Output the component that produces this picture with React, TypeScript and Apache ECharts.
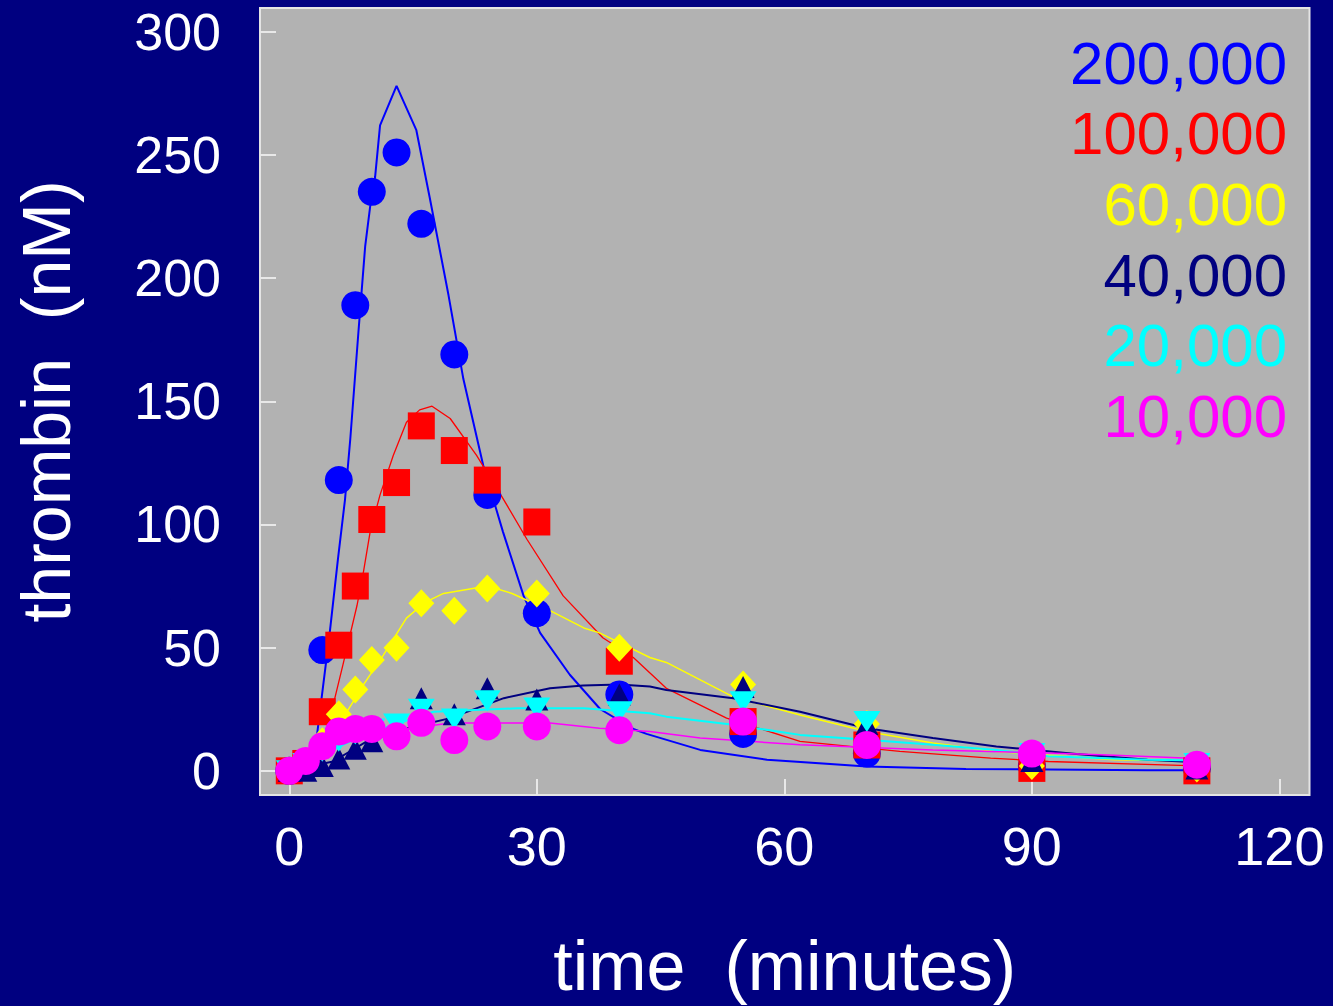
import React, { useEffect, useRef } from "react";
import * as echarts from "echarts";

const FONT = '"Liberation Sans", Arial, Helvetica, sans-serif';

const seriesNames = ["200,000", "100,000", "60,000", "40,000", "20,000", "10,000"];
const seriesColors = ["#0000ff", "#ff0000", "#ffff00", "#000080", "#00ffff", "#ff00ff"];

// axis ticks
const xTicks = [0, 30, 60, 90, 120];
const yTicks = [0, 50, 100, 150, 200, 250, 300];

// sampling times (minutes)
const times = [0, 2, 4, 6, 8, 10, 13, 16, 20, 24, 30, 40, 55, 70, 90, 110];

// measured thrombin (nM)
const obs200k = [0, 3, 49, 118, 189, 235, 251, 222, 169, 112, 64, 31, 15, 7, 2, 1];
const obs100k = [0, 3, 24, 51, 75, 102, 117, 140, 130, 118, 101, 44.5, 20, 10.5, 1, 0];
const obs60k = [0, 3, 12, 23, 33, 45, 50, 68, 65, 74, 72, 50, 35, 19, 2, 1];
const obs40k = [0, 0, 2, 5, 9, 12, 16, 29.5, 23, 33.5, 29, 31, 34, 19, 4, 1];
const obs20k = [0, 3, 8, 12, 15, 17, 19, 25, 21, 28.5, 25.5, 24, 28, 20, 7, 3];
const obs10k = [0, 4, 10, 16, 17, 17, 14, 19.5, 12.5, 18, 18, 16.5, 20, 10.5, 7, 2.5];

// model curves [time, thrombin]
const fit200k = [
  [0, 0], [2, 1], [3, 5], [3.3, 13], [4.9, 56], [5.9, 86], [6.75, 110], [7.4, 135], [8.4, 179],
  [9.2, 213], [9.8, 229], [10.4, 241], [11, 262], [13, 278], [15.4, 260], [17, 233], [19.3, 193],
  [21.1, 159], [23.5, 124], [25.9, 97], [28.4, 71], [30.4, 56], [34, 39], [37.7, 25], [41.7, 17],
  [43.3, 15], [49.8, 8.5], [57.9, 4.5], [70, 1.8], [82, 0.8], [104, 0.2], [110, 0.2],
];
const fit100k = [
  [0, 0], [2, 1], [3.5, 8], [4.9, 21], [6.5, 43], [8.2, 67], [9, 81], [9.8, 97], [11, 112],
  [12.6, 128], [14.2, 141.5], [15.8, 146.5], [17.3, 148], [19.5, 143], [22.7, 128], [26, 110],
  [28.8, 94], [33.2, 71], [38, 54], [41.7, 46], [45.7, 33.5], [53, 21.4], [61.9, 12], [74, 7.9],
  [85, 5.2], [92, 3.8], [108, 2.2], [110, 2],
];
const fit60k = [
  [0, 0], [2, 3], [4.9, 17], [7, 24], [9, 35], [11.4, 47], [14.2, 62], [16.5, 68.5], [18.7, 72],
  [24, 75], [27, 72], [31.6, 65], [35.7, 58], [37.6, 56], [43.7, 46], [45.7, 44], [53.8, 30],
  [61.9, 22.7], [70, 16], [78, 11.3], [85.7, 7.9], [92, 6.3], [100, 4.5], [110, 4],
];
const fit40k = [
  [0, 0], [5.3, 3.8], [9.4, 12], [14, 17], [19.5, 21.4], [26, 29.5], [31.6, 33.5], [35.6, 34.6],
  [40, 35], [43.7, 34.2], [45.7, 32.8], [53.8, 29.5], [61.9, 24], [70, 17.3], [78, 13.3],
  [85.7, 9.9], [95.4, 6.8], [104, 4.5], [110, 3.5],
];
const fit20k = [
  [0, 0], [3, 5], [7.4, 12], [12, 18], [17.5, 24], [27.6, 25.4], [35.7, 25.4], [43.7, 23.4],
  [45.7, 22], [53.8, 18.7], [61.9, 14.6], [70, 12.6], [78, 10.6], [85.7, 8.5], [92, 5.9],
  [104, 4.5], [110, 4.2],
];
const fit10k = [
  [0, 0], [3, 6], [7.4, 12], [12, 16], [19.5, 19.4], [31.6, 19.4], [37.6, 17.3], [43.7, 16],
  [49.8, 13.3], [61.9, 10.6], [78, 8.5], [92, 7.2], [100, 6.3], [110, 5],
];

const observed = [obs200k, obs100k, obs60k, obs40k, obs20k, obs10k];
const fits = [fit200k, fit100k, fit60k, fit40k, fit20k, fit10k];
const symbols = ["circle", "rect", "diamond", "triangle", "triangle", "circle"];
const symbolSizes: any[] = [28, 27, [26, 28], [23, 22], [27, 21], 28];
const symbolRotates = [0, 0, 0, 0, 180, 0];
const lineWidths = [2, 1.3, 1.5, 2, 2, 1.5];

export default function App() {
  const ref = useRef<HTMLDivElement>(null);
  useEffect(() => {
    if (!ref.current) return;
    const chart = echarts.init(ref.current, undefined, { renderer: "svg" });

    const lineSeries = fits.map((f, i) => ({
      name: seriesNames[i] + " model",
      type: "line",
      data: f,
      showSymbol: false,
      symbol: "none",
      smooth: false,
      clip: false,
      lineStyle: { color: seriesColors[i], width: lineWidths[i] },
      z: 2,
    }));
    const scatterSeries = observed.map((o, i) => ({
      name: seriesNames[i],
      type: "scatter",
      data: o.map((v, k) => [times[k], v]),
      symbol: symbols[i],
      symbolSize: symbolSizes[i],
      symbolRotate: symbolRotates[i],
      clip: false,
      itemStyle: { color: seriesColors[i], opacity: 1 },
      z: 3 + i,
    }));

    const legendTexts = seriesNames.map((n, i) => ({
      type: "text",
      x: 1287,
      y: 63 + i * 70.7,
      z: 10,
      style: {
        text: n,
        fill: seriesColors[i],
        font: `60px ${FONT}`,
        align: "right",
        verticalAlign: "middle",
      },
    }));

    chart.setOption({
      animation: false,
      backgroundColor: "#000080",
      textStyle: { fontFamily: FONT },
      grid: {
        left: 260,
        right: 23.5,
        top: 8,
        bottom: 209,
        containLabel: false,
        show: true,
        backgroundColor: "#b2b2b2",
        borderColor: "#e4e4e4",
        borderWidth: 2,
      },
      graphic: legendTexts,
      xAxis: {
        type: "value",
        min: -3.55,
        max: 123.65,
        position: "bottom",
        axisLine: { show: false, onZero: false },
        axisTick: {
          show: true,
          inside: true,
          length: 16,
          customValues: xTicks,
          lineStyle: { color: "#e8e8e8", width: 2 },
        },
        splitLine: { show: false },
        axisLabel: {
          color: "#ffffff",
          fontSize: 54,
          margin: 24,
          fontFamily: FONT,
          customValues: xTicks,
          showMinLabel: true,
          showMaxLabel: true,
        },
        name: "time  (minutes)",
        nameLocation: "middle",
        nameGap: 136,
        nameTextStyle: { color: "#ffffff", fontSize: 70, fontFamily: FONT },
      },
      yAxis: {
        type: "value",
        min: -9.8,
        max: 309.6,
        position: "left",
        axisLine: { show: false, onZero: false },
        axisTick: {
          show: true,
          inside: true,
          length: 16,
          customValues: yTicks,
          lineStyle: { color: "#e8e8e8", width: 2 },
        },
        splitLine: { show: false },
        axisLabel: {
          color: "#ffffff",
          fontSize: 52,
          margin: 39,
          fontFamily: FONT,
          customValues: yTicks,
          showMinLabel: true,
          showMaxLabel: true,
        },
        name: "thrombin  (nM)",
        nameLocation: "middle",
        nameRotate: 90,
        nameGap: 180,
        nameTextStyle: { color: "#ffffff", fontSize: 68, fontFamily: FONT },
      },
      series: [...lineSeries, ...scatterSeries],
    });
    return () => chart.dispose();
  }, []);
  return (
    <div
      ref={ref}
      style={{ position: "absolute", left: 0, top: 0, width: 1333, height: 1006 }}
    />
  );
}
